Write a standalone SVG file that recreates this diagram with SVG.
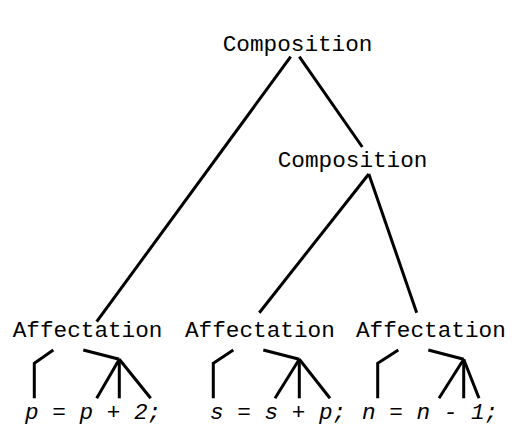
<svg xmlns="http://www.w3.org/2000/svg" width="524" height="445" viewBox="0 0 524 445">
<style>
.lbl{font-family:"Liberation Mono","Courier New",monospace;font-size:22.7px;fill:#000}
.code{font-style:italic}
.e{stroke:#000;stroke-width:3;fill:none;stroke-linejoin:miter}
</style>
<rect width="524" height="445" fill="#fff"/>
<g id="connectors">
<line class="e" x1="290.7" y1="56.7" x2="96.7" y2="321.7"/>
<line class="e" x1="299.3" y1="56.7" x2="362.3" y2="147"/>
<line class="e" x1="368.8" y1="174" x2="259.3" y2="312.7"/>
<line class="e" x1="368.8" y1="174" x2="416.7" y2="312.7"/>
<polyline class="e" points="34.3,398.3 34.3,363.3 53.3,350"/>
<polyline class="e" points="83.3,350 119.3,359.3"/>
<line class="e" x1="119.3" y1="359.3" x2="96.7" y2="398.3"/>
<line class="e" x1="119.3" y1="359.3" x2="119.3" y2="398.3"/>
<line class="e" x1="119.3" y1="359.3" x2="150.7" y2="398.3"/>
<polyline class="e" points="213.3,398.3 213.3,363.3 233.3,350"/>
<polyline class="e" points="263.3,350 299.3,359.3"/>
<line class="e" x1="299.3" y1="359.3" x2="275" y2="398.3"/>
<line class="e" x1="299.3" y1="359.3" x2="299.3" y2="398.3"/>
<line class="e" x1="299.3" y1="359.3" x2="330" y2="398.3"/>
<polyline class="e" points="377.7,398.3 377.7,363.3 398.3,350"/>
<polyline class="e" points="428.3,350 463.7,359.3"/>
<line class="e" x1="463.7" y1="359.3" x2="439" y2="398.3"/>
<line class="e" x1="463.7" y1="359.3" x2="463.7" y2="398.3"/>
<line class="e" x1="463.7" y1="359.3" x2="479" y2="398.3"/>
</g>
<g id="comp1"><text class="lbl" x="222.7" y="51">Composition</text></g>
<g id="comp2"><text class="lbl" x="277.7" y="167">Composition</text></g>
<g id="aff1"><text class="lbl" x="12.7" y="337.3">Affectation</text></g>
<g id="aff2"><text class="lbl" x="185" y="337.3">Affectation</text></g>
<g id="aff3"><text class="lbl" x="356" y="337.3">Affectation</text></g>
<g id="code1"><text class="lbl code" x="25" y="419">p = p + 2;</text></g>
<g id="code2"><text class="lbl code" x="210" y="419">s = s + p;</text></g>
<g id="code3"><text class="lbl code" x="362" y="419">n = n - 1;</text></g>
</svg>
